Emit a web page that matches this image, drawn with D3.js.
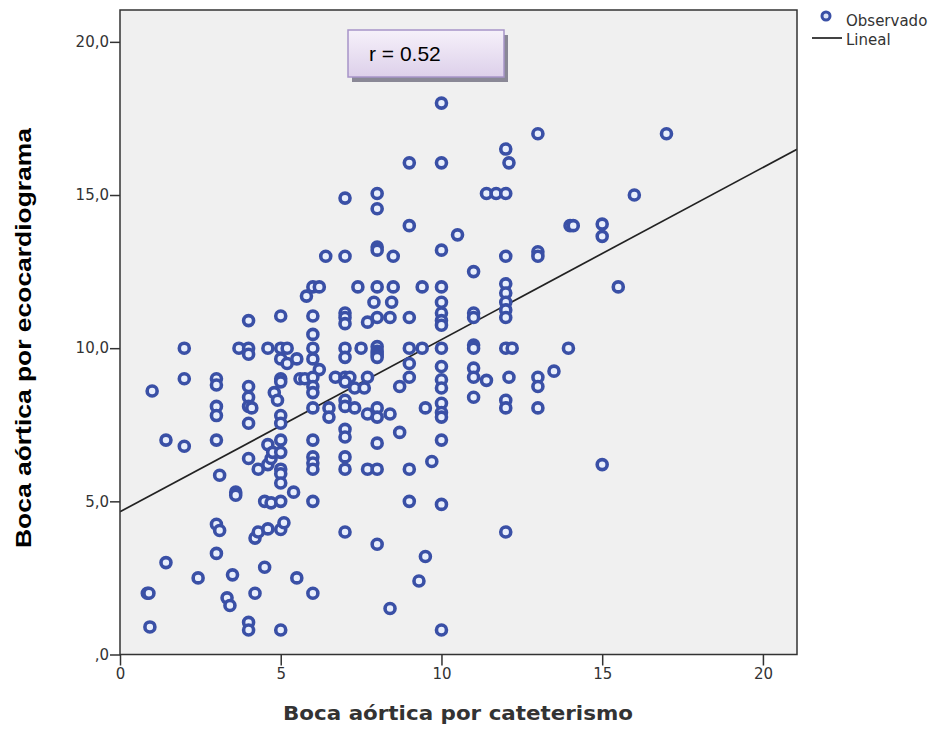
<!DOCTYPE html>
<html lang="en">
<head>
  <meta charset="UTF-8">
  <title>Boca aórtica</title>
  <script src="https://d3js.org/d3.v7.min.js"></script>
  <style>
    body { margin: 0; background: #fff; }
    .tick text { font-family: "DejaVu Sans", sans-serif; font-size: 15px; fill: #333; }
    .tick line, .domain { stroke: #333; stroke-width: 1.5px; }
  </style>
</head>
<body>
  <div id="chart"></div>

  <script>
    const cateterismo = [
      1.0, 0.85, 0.9, 0.93, 1.43, 1.43, 2.0, 2.0, 2.0, 2.43,
      3, 3, 3, 3, 3, 3.1, 3, 3.1, 3, 3.33, 3.42, 3.5, 3.6, 3.6,
      3.7, 4, 4, 4, 4, 4, 4, 4.1, 4, 4, 4, 4, 4.2, 4.2, 4.3, 4.5, 4.3, 4.6, 4.7, 4.5, 4.7, 4.6, 4.6, 4.8, 4.9, 4.6, 4.75,
      5, 5, 5.2, 5, 5.2, 5, 5, 5, 5, 5, 5, 5, 5, 5, 5, 5, 5.1, 5, 5.4, 5.5, 5.5, 5.6, 5.75,
      5.8, 6, 6.2, 6, 6, 6, 6, 6.2, 6, 6, 6, 6, 6.5, 6.5, 6, 6, 6, 6, 6, 6, 6.4, 6.7,
      7, 7, 7, 7, 7, 7, 7, 7, 7.15, 7, 7, 7, 7, 7, 7, 7, 7, 7.5, 7.4, 7.3, 7.6, 7.3, 7.7, 7.7, 7.9, 7.7, 7.7,
      8, 8, 8, 8, 8, 8, 8, 8, 8, 8, 8, 8, 8, 8, 8, 8.4, 8.45, 8.5, 8.5, 8.4, 8.4, 8.7, 8.7,
      9, 9, 9, 9, 9, 9, 9, 9, 9.4, 9.4, 9.5, 9.5, 9.3, 9.7,
      10, 10, 10, 10, 10, 10, 10, 10, 10, 10, 10, 10, 10, 10, 10, 10, 10, 10, 10.5,
      11, 11, 11, 11, 11, 11, 11, 11, 11.4, 11.4, 11.7,
      12, 12, 12.1, 12, 12, 12, 12, 12, 12, 12, 12.2, 12.1, 12, 12, 12,
      13, 13, 13, 13, 13, 13, 13.5, 13.95, 14, 14.1, 15, 15, 15.5, 16, 17, 15
    ];
    const ecocardiograma = [
      8.6, 2.0, 2.0, 0.9, 7.0, 3.0, 10.0, 9.0, 6.8, 2.5,
      9.0, 8.8, 8.1, 7.8, 7.0, 5.85, 4.25, 4.05, 3.3, 1.85, 1.6, 2.6, 5.3, 5.2,
      10.0, 10.0, 9.8, 10.9, 8.75, 8.4, 8.1, 8.05, 7.55, 6.4, 1.05, 0.8, 2.0, 3.8, 4.0, 2.85, 6.05, 6.2, 6.4, 5.0, 4.95, 4.1, 10.0, 8.55, 8.3, 6.85, 6.6,
      11.05, 10.0, 10.0, 9.65, 9.5, 9.0, 8.9, 7.8, 7.55, 7.0, 6.6, 6.05, 5.9, 5.6, 5.0, 4.08, 4.3, 0.8, 5.3, 9.65, 2.5, 9.0, 9.0,
      11.7, 12.0, 12.0, 11.05, 10.45, 10.0, 9.65, 9.3, 9.05, 8.75, 8.55, 8.05, 8.05, 7.75, 7.0, 6.45, 6.25, 6.05, 5.0, 2.0, 13.0, 9.05,
      14.9, 13.0, 11.15, 11.0, 10.8, 10.0, 9.7, 9.05, 9.05, 8.9, 8.3, 8.1, 7.35, 7.1, 6.45, 6.05, 4.0, 10.0, 12.0, 8.7, 8.7, 8.05, 9.05, 10.85, 11.5, 7.85, 6.05,
      15.05, 14.55, 13.3, 13.2, 12.0, 11.0, 10.05, 9.9, 9.8, 9.7, 8.05, 7.75, 6.9, 6.05, 3.6, 11.0, 11.5, 12.0, 13.0, 7.85, 1.5, 8.75, 7.25,
      16.05, 14.0, 11.0, 10.0, 9.5, 9.05, 6.05, 5.0, 12.0, 10.0, 8.05, 3.2, 2.4, 6.3,
      18.0, 16.05, 13.2, 12.0, 11.5, 11.15, 10.9, 10.75, 10.0, 9.4, 8.97, 8.7, 8.2, 7.9, 7.75, 7.0, 4.9, 0.8, 13.7,
      12.5, 11.15, 11.0, 10.1, 10.0, 9.35, 9.05, 8.4, 8.95, 15.05, 15.05,
      15.05, 16.5, 16.05, 13.0, 12.1, 11.8, 11.5, 11.25, 11.0, 10.0, 10.0, 9.05, 8.3, 8.05, 4.0,
      17.0, 13.15, 13.0, 9.05, 8.75, 8.05, 9.25, 10.0, 14.0, 14.0, 14.05, 13.65, 12.0, 15.0, 17.0, 6.2
    ];

    // Fitted line (Lineal) and correlation
    const intercept = 4.66;
    const slope = 0.562;
    const rLabel = "r = 0.52";

    const xTicks = [0, 5, 10, 15, 20];
    const yTicks = [0, 5, 10, 15, 20];
    const legendLabels = ["Observado", "Lineal"];

    const points = cateterismo.map((x, i) => ({ x: x, y: ecocardiograma[i] }));

    const W = 943, H = 730;
    const plot = { left: 120, right: 797, top: 10, bottom: 654.5 };

    const svg = d3.select("#chart").append("svg")
      .attr("width", W)
      .attr("height", H);

    const x = d3.scaleLinear().domain([0, 21.06]).range([plot.left, plot.right]);
    const y = d3.scaleLinear().domain([0, 21.04]).range([plot.bottom, plot.top]);

    // plot background
    svg.append("rect")
      .attr("x", plot.left).attr("y", plot.top)
      .attr("width", plot.right - plot.left)
      .attr("height", plot.bottom - plot.top)
      .attr("fill", "#f0f0f0");

    svg.append("clipPath").attr("id", "clip")
      .append("rect")
      .attr("x", plot.left).attr("y", plot.top)
      .attr("width", plot.right - plot.left)
      .attr("height", plot.bottom - plot.top);

    // regression line
    const xd = x.domain();
    svg.append("line")
      .attr("clip-path", "url(#clip)")
      .attr("x1", x(xd[0])).attr("y1", y(intercept + slope * xd[0]))
      .attr("x2", x(xd[1])).attr("y2", y(intercept + slope * xd[1]))
      .attr("stroke", "#222")
      .attr("stroke-width", 1.7);

    // observed points
    svg.append("g").attr("clip-path", "url(#clip)")
      .selectAll("circle")
      .data(points)
      .enter()
      .append("circle")
      .attr("cx", d => x(d.x))
      .attr("cy", d => y(d.y))
      .attr("r", 5)
      .attr("fill", "#e8eefc")
      .attr("stroke", "#3a50a6")
      .attr("stroke-width", 3.6);

    // axes
    svg.append("g")
      .attr("transform", `translate(0,${plot.bottom})`)
      .call(d3.axisBottom(x).tickValues(xTicks).tickSize(11).tickSizeOuter(0).tickPadding(3).tickFormat(d => d))
      .call(g => g.select(".domain").remove());

    svg.append("g")
      .attr("transform", `translate(${plot.left},0)`)
      .call(d3.axisLeft(y).tickValues(yTicks).tickSize(10).tickSizeOuter(0).tickPadding(1)
        .tickFormat(d => d === 0 ? ",0" : d + ",0"))
      .call(g => g.select(".domain").remove());

    // frame
    svg.append("rect")
      .attr("x", plot.left).attr("y", plot.top)
      .attr("width", plot.right - plot.left)
      .attr("height", plot.bottom - plot.top)
      .attr("fill", "none")
      .attr("stroke", "#333")
      .attr("stroke-width", 1.5);

    // axis titles
    svg.append("text")
      .attr("x", 458).attr("y", 720)
      .attr("text-anchor", "middle")
      .attr("textLength", 350)
      .attr("lengthAdjust", "spacingAndGlyphs")
      .style("font-family", "'DejaVu Sans', sans-serif")
      .style("font-weight", "bold")
      .style("font-size", "20px")
      .style("fill", "#333")
      .text("Boca aórtica por cateterismo");

    svg.append("text")
      .attr("transform", "translate(31,338) rotate(-90)")
      .attr("text-anchor", "middle")
      .attr("textLength", 420)
      .attr("lengthAdjust", "spacingAndGlyphs")
      .style("font-family", "'Liberation Sans', Arial, sans-serif")
      .style("font-weight", "bold")
      .style("font-size", "22px")
      .style("fill", "#000")
      .text("Boca aórtica por ecocardiograma");

    // r box with shadow
    const defs = svg.append("defs");
    const grad = defs.append("linearGradient").attr("id", "boxgrad")
      .attr("x1", 0).attr("y1", 0).attr("x2", 0).attr("y2", 1);
    grad.append("stop").attr("offset", "0%").attr("stop-color", "#f6f1fa");
    grad.append("stop").attr("offset", "100%").attr("stop-color", "#ddd0ea");

    svg.append("rect")
      .attr("x", 352).attr("y", 35).attr("width", 156).attr("height", 47)
      .attr("fill", "#8a8896");
    svg.append("rect")
      .attr("x", 348).attr("y", 30).attr("width", 156).attr("height", 47)
      .attr("fill", "url(#boxgrad)")
      .attr("stroke", "#a794c8")
      .attr("stroke-width", 1.5);
    svg.append("text")
      .attr("x", 369).attr("y", 61)
      .style("font-family", "'Liberation Sans', Arial, sans-serif")
      .style("font-size", "21px")
      .style("fill", "#000")
      .text(rLabel);

    // legend
    const lg = svg.append("g");
    lg.append("circle")
      .attr("cx", 826).attr("cy", 16).attr("r", 4)
      .attr("fill", "#dde4f6").attr("stroke", "#3a50a6").attr("stroke-width", 3);
    lg.append("text")
      .attr("x", 846).attr("y", 26)
      .style("font-family", "'DejaVu Sans', sans-serif")
      .style("font-size", "15px").style("fill", "#333")
      .text(legendLabels[0]);
    lg.append("line")
      .attr("x1", 812).attr("x2", 842).attr("y1", 38).attr("y2", 38)
      .attr("stroke", "#222").attr("stroke-width", 1.7);
    lg.append("text")
      .attr("x", 846).attr("y", 45)
      .style("font-family", "'DejaVu Sans', sans-serif")
      .style("font-size", "15px").style("fill", "#333")
      .text(legendLabels[1]);
  </script>
</body>
</html>
